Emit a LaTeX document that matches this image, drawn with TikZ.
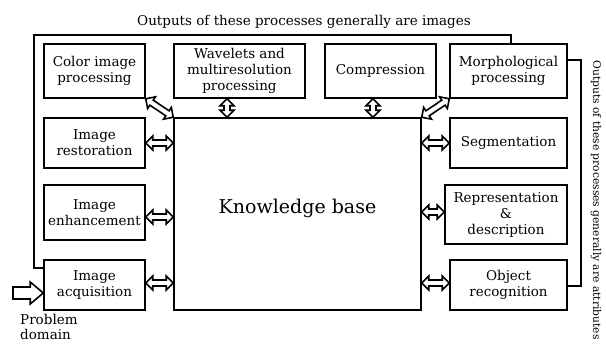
\documentclass[tikz,border=0pt]{standalone}
\usepackage{fontspec}
\setmainfont{DejaVu Serif}
\usetikzlibrary{calc}

\tikzset{
  procbox/.style={draw, line width=1.5pt, align=center, inner sep=1pt,
    font=\fontsize{13.5}{16}\selectfont},
  hollow/.style={draw, line width=1.6pt, fill=white, line join=miter},
  twoway/.style={hollow, to path={
    -- ($(\tikztostart)!7pt!(\tikztotarget)!7pt!90:(\tikztotarget)$)
    -- ($(\tikztostart)!7pt!(\tikztotarget)!3pt!90:(\tikztotarget)$)
    -- ($(\tikztotarget)!7pt!(\tikztostart)!3pt!-90:(\tikztostart)$)
    -- ($(\tikztotarget)!7pt!(\tikztostart)!7pt!-90:(\tikztostart)$)
    -- (\tikztotarget)
    -- ($(\tikztotarget)!7pt!(\tikztostart)!7pt!90:(\tikztostart)$)
    -- ($(\tikztotarget)!7pt!(\tikztostart)!3pt!90:(\tikztostart)$)
    -- ($(\tikztostart)!7pt!(\tikztotarget)!3pt!-90:(\tikztotarget)$)
    -- ($(\tikztostart)!7pt!(\tikztotarget)!7pt!-90:(\tikztotarget)$)
    -- cycle}},
  oneway/.style={hollow, to path={
    -- ($(\tikztostart)!6pt!90:(\tikztotarget)$)
    -- ($(\tikztotarget)!13pt!(\tikztostart)!6pt!-90:(\tikztostart)$)
    -- ($(\tikztotarget)!13pt!(\tikztostart)!11pt!-90:(\tikztostart)$)
    -- (\tikztotarget)
    -- ($(\tikztotarget)!13pt!(\tikztostart)!11pt!90:(\tikztostart)$)
    -- ($(\tikztotarget)!13pt!(\tikztostart)!6pt!90:(\tikztostart)$)
    -- ($(\tikztostart)!6pt!-90:(\tikztotarget)$)
    -- cycle}},
  feed/.style={line width=1.5pt}
}

\begin{document}
\begin{tikzpicture}[x=1pt,y=-1pt]
        \useasboundingbox (0,0) rectangle (606,344);
        % left column
        \node[procbox, minimum width=101, minimum height=54] (color) at (94.5,71) {Color image\\processing};
        \node[procbox, minimum width=101, minimum height=50] (restore) at (94.5,143) {Image\\restoration};
        \node[procbox, minimum width=101, minimum height=55] (enhance) at (94.5,212.5) {Image\\enhancement};
        \node[procbox, minimum width=101, minimum height=50] (acquire) at (94.5,285) {Image\\acquisition};
        % top row
        \node[procbox, minimum width=131, minimum height=54] (wavelet) at (239.5,71) {Wavelets and\\multiresolution\\processing};
        \node[procbox, minimum width=111, minimum height=54] (compress) at (380.5,71) {Compression};
        \node[procbox, minimum width=117, minimum height=54] (morph) at (508.5,71) {Morphological\\processing};
        % right column
        \node[procbox, minimum width=117, minimum height=50] (segment) at (508.5,143) {Segmentation};
        \node[procbox, minimum width=122, minimum height=59] (repr) at (506,214.5) {Representation\\\&\\description};
        \node[procbox, minimum width=117, minimum height=50] (object) at (508.5,285) {Object\\recognition};
        % centre
        \node[procbox, minimum width=247, minimum height=192, text depth=16pt, font=\fontsize{19}{23}\selectfont] (kb) at (297.5,214) {Knowledge base};
        \node[font=\fontsize{13.5}{15.5}\selectfont, anchor=north west, align=left, inner sep=0pt] (problem) at (20,314) {Problem\\domain};
        \node[font=\fontsize{13.5}{16}\selectfont] (toptext) at (304,22) {Outputs of these processes generally are images};
        \node[font=\fontsize{10.7}{13}\selectfont, rotate=-90] (sidetext) at (596,200) {Outputs of these processes generally are attributes};

        % feedback lines
        \coordinate (leftfeed) at (acquire.west |- 0,268);
        \coordinate (lefttop) at (34,35);
        \coordinate (topfeed) at (511,44);
        \coordinate (rightturn) at (581,60);
        \draw[feed] (leftfeed) -| (lefttop) -| (topfeed);
        \draw[feed] (morph.east |- rightturn) -- (rightturn) |- (object.east |- 0,286);

        % two-way arrows
        \coordinate (wav-a) at (wavelet.south -| 227,0);
        \coordinate (wav-b) at (kb.north -| 227,0);
        \coordinate (com-a) at (compress.south -| 373,0);
        \coordinate (com-b) at (kb.north -| 373,0);
        \coordinate (enh-a) at (enhance.east |- 0,217);
        \coordinate (enh-b) at (kb.west |- 0,217);
        \coordinate (acq-a) at (acquire.east |- 0,283);
        \coordinate (acq-b) at (kb.west |- 0,283);
        \coordinate (res-b) at (kb.west |- restore.east);
        \coordinate (seg-a) at (kb.east |- segment.west);
        \coordinate (rep-a) at (kb.east |- 0,212);
        \coordinate (rep-b) at (repr.west |- 0,212);
        \coordinate (obj-a) at (kb.east |- 0,283);
        \coordinate (obj-b) at (object.west |- 0,283);
        \draw[twoway] (color.south east) to (kb.north west);
        \draw[twoway] (morph.south west) to (kb.north east);
        \draw[twoway] (wav-a) to (wav-b);
        \draw[twoway] (com-a) to (com-b);
        \draw[twoway] (restore.east) to (res-b);
        \draw[twoway] (enh-a) to (enh-b);
        \draw[twoway] (acq-a) to (acq-b);
        \draw[twoway] (seg-a) to (segment.west);
        \draw[twoway] (rep-a) to (rep-b);
        \draw[twoway] (obj-a) to (obj-b);
        % problem domain input
        \coordinate (inputstart) at (13,293);
        \coordinate (inputend) at (acquire.west |- inputstart);
        \draw[oneway] (inputstart) to (inputend);
\end{tikzpicture}
\end{document}
